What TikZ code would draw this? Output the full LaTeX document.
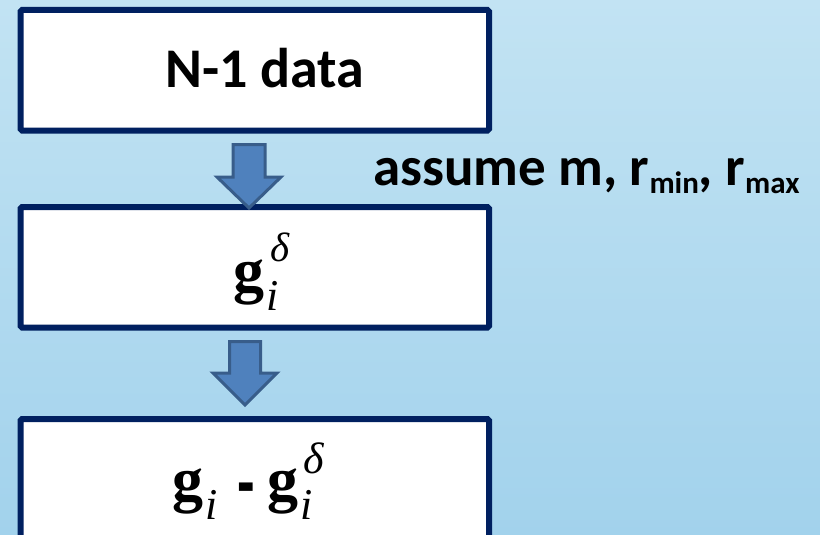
\documentclass[tikz,border=0pt]{standalone}
\usepackage{graphicx}
\usepackage{fontspec}
\setmainfont{Carlito}
\newfontfamily\serifm{Liberation Serif}
\usetikzlibrary{calc}
\definecolor{bgtop}{RGB}{194,227,243}
\definecolor{bgbot}{RGB}{162,210,236}
\definecolor{navy}{RGB}{0,32,96}
\definecolor{arrfill}{RGB}{79,129,189}
\definecolor{arrline}{RGB}{56,93,138}
\newcommand\gB{{\serifm\bfseries\fontsize{62}{62}\selectfont g}}
\newcommand\iI[1]{\raisebox{#1}{\serifm\itshape\fontsize{44}{44}\selectfont i}}
\newcommand\dD[2]{\raisebox{#1}{\serifm\itshape\fontsize{#2}{#2}\selectfont δ}}
\newcommand\hyB{\raisebox{-10pt}{\scalebox{0.85}[1.6]{\serifm\bfseries\fontsize{62}{62}\selectfont -}}}
\newcommand\subtxt[1]{\raisebox{-8pt}{\fontsize{31}{31}\selectfont #1}}
\tikzset{
  box/.style={draw=navy, line width=6pt, fill=white, rounded corners=1.5pt,
    minimum width=468.5pt, minimum height=120.5pt, inner sep=0pt, outer sep=0pt},
  blockarrow/.style={fill=arrfill, draw=arrline, line width=3pt, line join=miter},
  lab/.style={font=\bfseries\fontsize{56}{56}\selectfont, inner sep=0pt, anchor=base west},
  formula/.style={inner sep=0pt, anchor=base west}
}
\begin{document}
\begin{tikzpicture}[x=1pt,y=-1pt]
\useasboundingbox (0,0) rectangle (820,535);
\clip (0,0) rectangle (820,535);
\shade[top color=bgtop, bottom color=bgbot] (0,0) rectangle (820,535);
% boxes
\node[box] (b1) at (254.75,70.25) {};
\node[box] (b2) at (254.75,267.25) {};
\node[box] (b3) at (254.75,479.25) {};
% block arrows
\draw[blockarrow] ($(b2.north)+(-5.75,1)$) coordinate (tip1)
  -- ++(-32,-31) -- ++(16,0) -- ++(0,-32.5) -- ++(32,0) -- ++(0,32.5) -- ++(16,0) -- cycle;
\draw[blockarrow] ($(b2.south)+(-25.25,14)$) coordinate (tail2)
  -- ++(31,0) -- ++(0,31.5) -- ++(16.5,0) -- ++(-32,32) -- ++(-32,-32) -- ++(16.5,0) -- cycle;
% texts
\node[lab] (t1) at (165,88) {N-1 data};
\node[lab, font=\bfseries\fontsize{55}{55}\selectfont] (t2) at (373,185) {assume m, r\subtxt{min}, r\subtxt{max}};
\node[formula] (f2) at (233,291) {\rlap{\gB}\kern33pt\rlap{\iI{-19pt}}\kern4pt\dD{30pt}{41}};
\node[formula] (f3) at (172,500) {\rlap{\gB}\kern33pt\rlap{\iI{-19pt}}\kern32pt\rlap{\hyB}\kern30pt\rlap{\gB}\kern33pt\rlap{\iI{-19pt}}\kern3pt\dD{27pt}{44}};
\end{tikzpicture}
\end{document}
